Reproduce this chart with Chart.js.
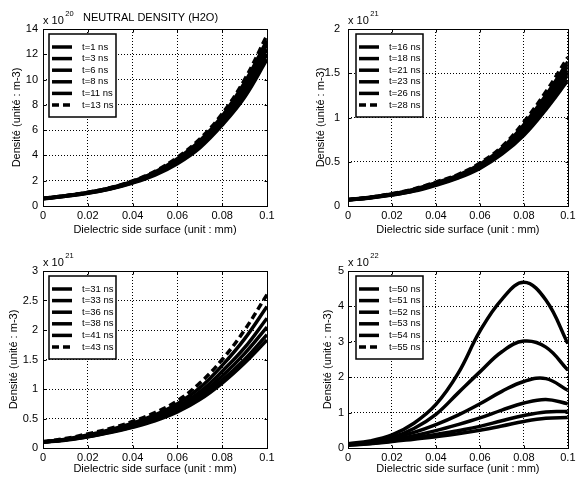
<!DOCTYPE html>
<html>
<head>
<meta charset="utf-8">
<script src="https://cdn.jsdelivr.net/npm/chart.js@4.4.0/dist/chart.umd.min.js"></script>
<style>
body { margin: 0; background: #fff; }
#wrap { position: relative; width: 579px; height: 479px; }
canvas { position: absolute; }
</style>
</head>
<body>
<div id="wrap">
  <canvas id="c1" width="289" height="239" style="left:0;top:0"></canvas>
  <canvas id="c2" width="290" height="239" style="left:289px;top:0"></canvas>
  <canvas id="c3" width="289" height="240" style="left:0;top:239px"></canvas>
  <canvas id="c4" width="290" height="240" style="left:289px;top:239px"></canvas>
</div>
<script>
Chart.defaults.font.family = "'Liberation Sans', Arial, sans-serif";
Chart.defaults.color = '#000';

var xs = [0, 0.01, 0.02, 0.03, 0.04, 0.05, 0.06, 0.07, 0.08, 0.09, 0.1];
var xTickLabels = ['0', '0.02', '0.04', '0.06', '0.08', '0.1'];
var xTitle = 'Dielectric side surface (unit : mm)';
var yTitle = 'Densité (unité : m-3)';
var mainTitle = 'NEUTRAL DENSITY (H2O)';

// panel 1, x 10^20
var times1 = ['t=1 ns', 't=3 ns', 't=6 ns', 't=8 ns', 't=11 ns', 't=13 ns'];
var dens1 = [
  [0.57, 0.77, 1.01, 1.35, 1.82, 2.45, 3.35, 4.60, 6.40, 8.6, 11.6],
  [0.58, 0.78, 1.02, 1.37, 1.85, 2.51, 3.45, 4.74, 6.58, 8.9, 12.0],
  [0.59, 0.79, 1.04, 1.39, 1.88, 2.57, 3.55, 4.88, 6.76, 9.2, 12.4],
  [0.60, 0.80, 1.05, 1.41, 1.91, 2.63, 3.65, 5.02, 6.94, 9.5, 12.8],
  [0.61, 0.81, 1.07, 1.43, 1.94, 2.69, 3.75, 5.16, 7.12, 9.75, 13.1],
  [0.62, 0.82, 1.08, 1.45, 1.98, 2.75, 3.85, 5.30, 7.30, 10.0, 13.5]
];
var dashed1 = [false, false, false, false, false, true];
var yTicks1 = ['0', '2', '4', '6', '8', '10', '12', '14'];

// panel 2, x 10^21
var times2 = ['t=16 ns', 't=18 ns', 't=21 ns', 't=23 ns', 't=26 ns', 't=28 ns'];
var dens2 = [
  [0.068, 0.090, 0.123, 0.168, 0.235, 0.315, 0.425, 0.585, 0.80, 1.09, 1.42],
  [0.069, 0.092, 0.126, 0.173, 0.242, 0.323, 0.437, 0.602, 0.83, 1.13, 1.48],
  [0.070, 0.094, 0.129, 0.178, 0.249, 0.331, 0.449, 0.619, 0.86, 1.17, 1.53],
  [0.071, 0.096, 0.132, 0.183, 0.256, 0.339, 0.461, 0.636, 0.89, 1.21, 1.58],
  [0.072, 0.098, 0.135, 0.188, 0.263, 0.347, 0.473, 0.653, 0.92, 1.25, 1.63],
  [0.073, 0.100, 0.138, 0.193, 0.270, 0.355, 0.485, 0.670, 0.95, 1.29, 1.68]
];
var dashed2 = [false, false, false, false, false, true];
var yTicks2 = ['0', '0.5', '1', '1.5', '2'];

// panel 3, x 10^21
var times3 = ['t=31 ns', 't=33 ns', 't=36 ns', 't=38 ns', 't=41 ns', 't=43 ns'];
var dens3 = [
  [0.10, 0.13, 0.19, 0.26, 0.35, 0.46, 0.61, 0.82, 1.10, 1.44, 1.83],
  [0.10, 0.14, 0.19, 0.27, 0.36, 0.48, 0.64, 0.86, 1.15, 1.50, 1.92],
  [0.10, 0.14, 0.20, 0.28, 0.37, 0.50, 0.67, 0.90, 1.22, 1.60, 2.05],
  [0.10, 0.14, 0.21, 0.29, 0.39, 0.52, 0.70, 0.95, 1.30, 1.70, 2.20],
  [0.10, 0.15, 0.22, 0.31, 0.42, 0.56, 0.75, 1.02, 1.40, 1.85, 2.40],
  [0.11, 0.16, 0.24, 0.33, 0.45, 0.60, 0.80, 1.10, 1.50, 2.00, 2.60]
];
var dashed3 = [false, false, false, false, false, true];
var yTicks3 = ['0', '0.5', '1', '1.5', '2', '2.5', '3'];

// panel 4, x 10^22
var times4 = ['t=50 ns', 't=51 ns', 't=52 ns', 't=53 ns', 't=54 ns', 't=55 ns'];
var dens4 = [
  [0.08, 0.12, 0.18, 0.25, 0.32, 0.40, 0.50, 0.62, 0.75, 0.84, 0.86],
  [0.08, 0.13, 0.20, 0.29, 0.38, 0.49, 0.61, 0.77, 0.92, 1.02, 1.03],
  [0.10, 0.15, 0.24, 0.35, 0.49, 0.66, 0.85, 1.07, 1.27, 1.37, 1.25],
  [0.10, 0.17, 0.28, 0.44, 0.66, 0.93, 1.25, 1.60, 1.88, 1.96, 1.63],
  [0.10, 0.17, 0.30, 0.55, 0.95, 1.55, 2.15, 2.72, 3.02, 2.85, 2.20],
  [0.12, 0.20, 0.37, 0.70, 1.23, 2.10, 3.30, 4.20, 4.68, 4.18, 2.95]
];
var dashed4 = [false, false, false, false, false, true];
var yTicks4 = ['0', '1', '2', '3', '4', '5'];

var DASH = [7, 4];
var FONT = "'Liberation Sans', Arial, sans-serif";

// frame, inner ticks, legend box, exponent and title
var decor = {
  id: 'decor',
  afterDatasetsDraw: function(chart, args, o) {
    var ctx = chart.ctx, a = chart.chartArea;
    var sx = chart.scales.x, sy = chart.scales.y;
    ctx.save();
    ctx.strokeStyle = '#000';
    ctx.lineWidth = 1;
    ctx.setLineDash([]);
    var l = Math.round(a.left) + 0.5, t = Math.round(a.top) + 0.5;
    var r = Math.round(a.right) + 0.5, b = Math.round(a.bottom) + 0.5;
    ctx.strokeRect(l, t, r - l, b - t);
    ctx.beginPath();
    sx.ticks.forEach(function(tk) {
      var px = Math.round(sx.getPixelForValue(tk.value)) + 0.5;
      ctx.moveTo(px, b); ctx.lineTo(px, b - 3);
      ctx.moveTo(px, t); ctx.lineTo(px, t + 3);
    });
    sy.ticks.forEach(function(tk) {
      var py = Math.round(sy.getPixelForValue(tk.value)) + 0.5;
      ctx.moveTo(l, py); ctx.lineTo(l + 3, py);
      ctx.moveTo(r, py); ctx.lineTo(r - 3, py);
    });
    ctx.stroke();

    // legend
    var bx = Math.round(a.left + o.legendDx), by = Math.round(a.top + o.legendDy);
    ctx.fillStyle = '#fff';
    ctx.fillRect(bx, by, 67, 83);
    ctx.lineWidth = 1.5;
    ctx.strokeRect(bx, by, 67, 83);
    ctx.fillStyle = '#000';
    ctx.font = '9.5px ' + FONT;
    ctx.textBaseline = 'middle';
    ctx.textAlign = 'left';
    chart.data.datasets.forEach(function(ds, i) {
      var ry = by + 13 + i * 11.6;
      ctx.lineWidth = 3.5;
      ctx.setLineDash(ds.legendDash);
      ctx.beginPath();
      ctx.moveTo(bx + 3, ry);
      ctx.lineTo(bx + 23, ry);
      ctx.stroke();
      ctx.setLineDash([]);
      ctx.fillText(ds.label, bx + 33, ry);
    });

    // exponent
    ctx.textBaseline = 'alphabetic';
    ctx.font = '11px ' + FONT;
    ctx.fillText('x 10', a.left, a.top - 5.5);
    var w = ctx.measureText('x 10').width;
    ctx.font = '7.5px ' + FONT;
    ctx.fillText(o.exp, a.left + w + 1.5, a.top - 13);

    if (o.title) {
      ctx.font = '11px ' + FONT;
      ctx.textBaseline = 'middle';
      ctx.fillText(o.title, a.left + 40, a.top - 11);
    }
    ctx.restore();
  }
};

function makeSets(names, vals, dashed, plotDash) {
  return names.map(function(n, i) {
    return {
      label: n,
      data: xs.map(function(x, j) { return { x: x, y: vals[i][j] }; }),
      borderColor: '#000',
      borderWidth: 3.5,
      pointRadius: 0,
      tension: 0.4,
      fill: false,
      borderDash: (dashed[i] && plotDash) ? DASH : [],
      legendDash: dashed[i] ? DASH : []
    };
  });
}

function makeChart(id, cfg) {
  var cv = document.getElementById(id);
  var W = cv.width, H = cv.height;
  return new Chart(cv, {
    type: 'line',
    data: { datasets: makeSets(cfg.names, cfg.vals, cfg.dashed, cfg.plotDash) },
    plugins: [decor],
    options: {
      responsive: false,
      animation: false,
      layout: { padding: { left: 0, top: cfg.area[1], right: W - cfg.area[2], bottom: 0 } },
      plugins: {
        legend: { display: false },
        tooltip: { enabled: false },
        decor: { exp: cfg.exp, title: cfg.title, legendDx: cfg.legendDx, legendDy: 5 }
      },
      scales: {
        x: {
          type: 'linear', min: 0, max: 0.1,
          afterFit: function(s) { s.height = H - cfg.area[3]; },
          ticks: { stepSize: 0.02, padding: 3.5, font: { size: 11 }, maxRotation: 0,
                   callback: function(v, i) { return xTickLabels[i]; } },
          grid: { color: '#000', lineWidth: 1, drawTicks: false },
          border: { display: false, dash: [1, 2] },
          title: { display: true, text: xTitle, font: { size: 11 }, padding: { top: 0, bottom: cfg.xTitlePad } }
        },
        y: {
          type: 'linear', min: 0, max: cfg.yMax,
          afterFit: function(s) { s.width = cfg.area[0]; },
          ticks: { stepSize: cfg.yStep, padding: cfg.yPad, font: { size: 11 },
                   callback: function(v, i) { return cfg.yTicks[i]; } },
          grid: { color: '#000', lineWidth: 1, drawTicks: false },
          border: { display: false, dash: [1, 2] },
          title: { display: true, text: yTitle, font: { size: 11 }, padding: { top: cfg.yTitleX - 6.6, bottom: 0 } }
        }
      }
    }
  });
}

makeChart('c1', { names: times1, vals: dens1, dashed: dashed1, plotDash: true,
  yMax: 14, yStep: 2, yTicks: yTicks1, exp: '20', title: mainTitle,
  area: [43, 29, 267, 206], yPad: 5, yTitleX: 16.5, xTitlePad: 2, legendDx: 6 });
makeChart('c2', { names: times2, vals: dens2, dashed: dashed2, plotDash: true,
  yMax: 2, yStep: 0.5, yTicks: yTicks2, exp: '21', title: null,
  area: [59, 29, 283, 206], yPad: 8, yTitleX: 32, xTitlePad: 2, legendDx: 8 });
makeChart('c3', { names: times3, vals: dens3, dashed: dashed3, plotDash: true,
  yMax: 3, yStep: 0.5, yTicks: yTicks3, exp: '21', title: null,
  area: [43, 32, 267, 209], yPad: 5, yTitleX: 13.5, xTitlePad: 3, legendDx: 6 });
makeChart('c4', { names: times4, vals: dens4, dashed: dashed4, plotDash: false,
  yMax: 5, yStep: 1, yTicks: yTicks4, exp: '22', title: null,
  area: [59, 32, 283, 209], yPad: 4, yTitleX: 39, xTitlePad: 3, legendDx: 8 });
</script>
</body>
</html>
